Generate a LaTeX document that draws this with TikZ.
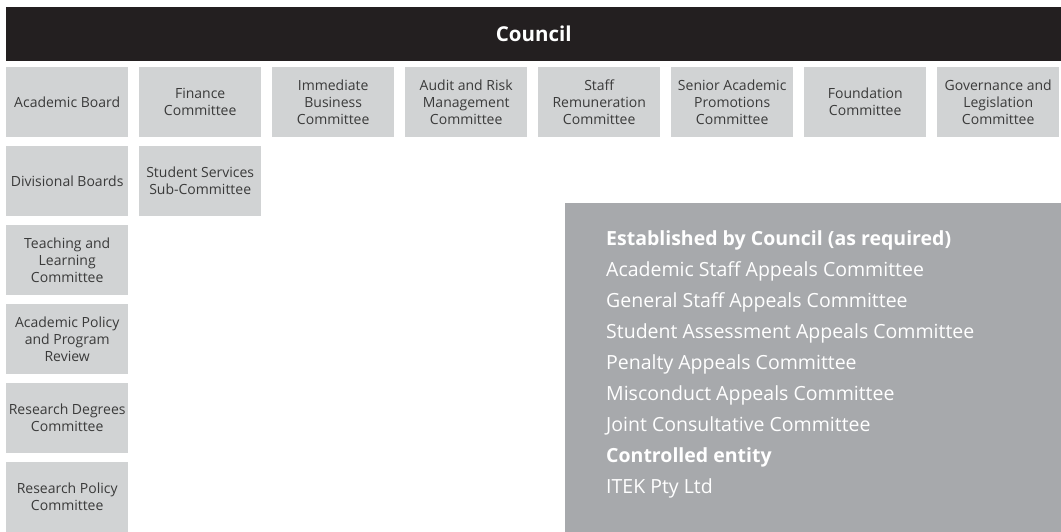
\documentclass[tikz,border=0pt]{standalone}
\usepackage{fontspec}
\setmainfont{Open Sans}
\setsansfont{Open Sans}
\definecolor{councilblack}{HTML}{231F20}
\definecolor{boxgray}{HTML}{D1D3D4}
\definecolor{panelgray}{HTML}{A7A9AC}
\definecolor{boxtext}{HTML}{3A3A3A}
\begin{document}
\begin{tikzpicture}[x=1pt,y=-1pt,font=\sffamily,
	box/.style={fill=boxgray,text=boxtext,anchor=north west,inner sep=0pt,
		minimum width=122pt,minimum height=70pt,align=center,
		font=\sffamily\fontsize{14}{17}\selectfont},
	council/.style={fill=councilblack,text=white,anchor=north west,inner sep=0pt,
		minimum width=1055pt,minimum height=54pt,
		font=\sffamily\bfseries\fontsize{20.5}{24}\selectfont},
	panel/.style={fill=panelgray,anchor=north west,inner sep=0pt,
		minimum width=496pt,minimum height=329pt},
	paneltext/.style={text=white,anchor=base west,inner sep=0pt,
		font=\sffamily\fontsize{19.5}{23}\selectfont}]
		\def \bx{133};
		\def \by{79};
		\useasboundingbox (0,0) rectangle (1061,532);
		\node[council] (council) at (6,7) {Council};
		% committees under council
		\foreach \t [count=\i] in {Academic Board, {Finance\\Committee},
			{Immediate\\Business\\Committee}, {Audit and Risk\\Management\\Committee},
			{Staff\\Remuneration\\Committee}, {Senior Academic\\Promotions\\Committee},
			{Foundation\\Committee}, {Governance and\\Legislation\\Committee}}
			\node[box] (c\i) at ({6+\bx*(\i-1)},67) {\t};
		% under academic board
		\foreach \t [count=\i] in {Divisional Boards, {Teaching and\\Learning\\Committee},
			{Academic Policy\\and Program\\Review}, {Research Degrees\\Committee},
			{Research Policy\\Committee}}
			\node[box] (a\i) at (6,{67+\by*\i}) {\t};
		\node[box] (f1) at (6+\bx,67+\by) {Student Services\\Sub-Committee};
		% established by council
		\node[panel] (panel) at (565,203) {};
		\foreach \t [count=\i] in {{\bfseries Established by Council (as required)},
			Academic Staff Appeals Committee, General Staff Appeals Committee,
			Student Assessment Appeals Committee, Penalty Appeals Committee,
			Misconduct Appeals Committee, Joint Consultative Committee,
			{\bfseries Controlled entity}, ITEK Pty Ltd}
			\node[paneltext] (e\i) at (606,{245+31*(\i-1)}) {\t};
\end{tikzpicture}
\end{document}
